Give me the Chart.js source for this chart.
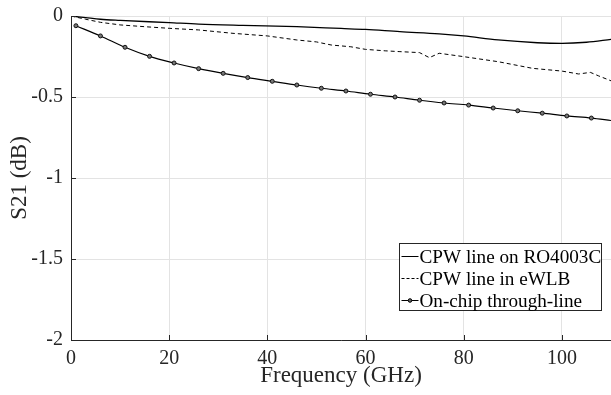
<!DOCTYPE html>
<html>
<head>
<meta charset="utf-8">
<script src="https://cdn.jsdelivr.net/npm/chart.js@4/dist/chart.umd.min.js"></script>
<style>
html,body{margin:0;padding:0;background:#fff;}
#wrap{width:611px;height:395px;}
</style>
</head>
<body>
<div id="wrap"><canvas id="c" width="611" height="395"></canvas></div>
<script>
// ---- data ----
const seriesNames = ['CPW line on RO4003C', 'CPW line in eWLB', 'On-chip through-line'];

const ro4003cFreq = [0, 3, 6, 10, 20, 26, 35, 46, 55, 60, 67, 75, 80, 87, 95, 100, 105, 110];
const ro4003cS21  = [0, -0.01, -0.02, -0.027, -0.041, -0.05, -0.058, -0.066, -0.077, -0.083, -0.097, -0.11, -0.123, -0.148, -0.165, -0.169, -0.162, -0.144];

const ewlbFreq = [0, 3, 6, 10, 15, 20, 26, 33, 40, 46, 50, 53, 57, 60, 64, 67, 71, 73, 75, 80, 87, 94, 100, 103.4, 105.8, 107.5, 110];
const ewlbS21  = [0, -0.02, -0.039, -0.055, -0.066, -0.076, -0.086, -0.107, -0.123, -0.148, -0.16, -0.179, -0.19, -0.206, -0.215, -0.22, -0.226, -0.257, -0.23, -0.251, -0.282, -0.323, -0.34, -0.358, -0.348, -0.37, -0.4];

const onchipFreq = [1, 6, 11, 16, 21, 26, 31, 36, 41, 46, 51, 56, 61, 66, 71, 76, 81, 86, 91, 96, 101, 106, 110];
const onchipS21  = [-0.06, -0.123, -0.193, -0.249, -0.29, -0.325, -0.354, -0.38, -0.403, -0.426, -0.446, -0.463, -0.483, -0.5, -0.52, -0.537, -0.55, -0.568, -0.585, -0.6, -0.617, -0.63, -0.645];

const xTicks = [0, 20, 40, 60, 80, 100];
const yTicks = [0, -0.5, -1, -1.5, -2];

const xy = (xs, ys) => xs.map((x, i) => ({x: x, y: ys[i]}));

const FONT = "'Liberation Serif', 'Times New Roman', serif";
const AXIS = '#262626';

const tickMarks = {
  id: 'tickMarks',
  afterDatasetsDraw(chart) {
    const {ctx, chartArea: a, scales: {x, y}} = chart;
    ctx.save();
    ctx.strokeStyle = AXIS;
    ctx.lineWidth = 1;
    ctx.beginPath();
    ctx.moveTo(a.left + 0.5, a.top);
    ctx.lineTo(a.left + 0.5, a.bottom + 0.5);
    ctx.lineTo(a.right, a.bottom + 0.5);
    xTicks.forEach(v => {
      const px = Math.round(x.getPixelForValue(v)) + 0.5;
      ctx.moveTo(px, a.bottom);
      ctx.lineTo(px, a.bottom - 5);
    });
    yTicks.forEach(v => {
      const py = Math.round(y.getPixelForValue(v)) + 0.5;
      ctx.moveTo(a.left, py);
      ctx.lineTo(a.left + 5, py);
    });
    ctx.stroke();
    ctx.restore();
  }
};

const boxLegend = {
  id: 'boxLegend',
  afterDraw(chart) {
    const {ctx} = chart;
    const ds = chart.data.datasets;
    const bx = 399.5, by = 243.5, bw = 202, bh = 67;
    ctx.save();
    ctx.fillStyle = '#fff';
    ctx.fillRect(bx, by, bw, bh);
    ctx.strokeStyle = AXIS;
    ctx.lineWidth = 1;
    ctx.strokeRect(bx, by, bw, bh);
    ctx.font = '19.2px ' + FONT;
    ctx.textBaseline = 'middle';
    ctx.textAlign = 'left';
    ds.forEach((d, i) => {
      const yy = by + 13 + i * 22;
      ctx.strokeStyle = '#000';
      ctx.lineWidth = 1;
      ctx.setLineDash(d.borderDash ? [3, 2] : []);
      ctx.beginPath();
      ctx.moveTo(bx + 2, yy);
      ctx.lineTo(bx + 19, yy);
      ctx.stroke();
      ctx.setLineDash([]);
      if (Array.isArray(d.pointRadius) ? d.pointRadius[0] > 0 : d.pointRadius > 0) {
        ctx.beginPath();
        ctx.arc(bx + 10.5, yy, 1.8, 0, Math.PI * 2);
        ctx.fillStyle = '#666';
        ctx.fill();
        ctx.stroke();
      }
      ctx.fillStyle = '#000';
      ctx.fillText(d.label, bx + 20, yy + 1);
    });
    ctx.restore();
  }
};

new Chart(document.getElementById('c'), {
  type: 'line',
  data: {
    datasets: [
      {
        label: seriesNames[0],
        data: xy(ro4003cFreq, ro4003cS21),
        borderColor: '#000', borderWidth: 1.3,
        pointRadius: 0, cubicInterpolationMode: 'monotone', fill: false
      },
      {
        label: seriesNames[1],
        data: xy(ewlbFreq, ewlbS21),
        borderColor: '#000', borderWidth: 1, borderDash: [4, 3],
        pointRadius: 0, tension: 0, fill: false
      },
      {
        label: seriesNames[2],
        data: xy(onchipFreq, onchipS21),
        borderColor: '#000', borderWidth: 1.2,
        pointRadius: onchipFreq.map((f, i) => i === onchipFreq.length - 1 ? 0 : 2),
        pointBackgroundColor: '#777', pointBorderColor: '#111', pointBorderWidth: 1,
        cubicInterpolationMode: 'monotone', fill: false
      }
    ]
  },
  options: {
    responsive: false,
    animation: false,
    clip: true,
    layout: {autoPadding: false, padding: {top: 16, right: 0, left: 0, bottom: 0}},
    plugins: {legend: {display: false}, tooltip: {enabled: false}},
    scales: {
      x: {
        type: 'linear', min: 0, max: 110,
        afterBuildTicks: s => { s.ticks = xTicks.map(v => ({value: v})); },
        afterFit: s => { s.height = 55; s.paddingLeft = 0; s.paddingRight = 0; },
        grid: {color: '#e3e3e3', drawTicks: false, lineWidth: 1},
        border: {display: false},
        ticks: {font: {family: FONT, size: 20}, color: AXIS, padding: 7, maxRotation: 0,
                callback: v => String(v)},
        title: {display: true, text: 'Frequency (GHz)', font: {family: FONT, size: 23}, color: AXIS, padding: {top: 0, bottom: 5}}
      },
      y: {
        type: 'linear', min: -2, max: 0,
        afterBuildTicks: s => { s.ticks = yTicks.map(v => ({value: v})); },
        afterFit: s => { s.width = 71; s.paddingTop = 0; s.paddingBottom = 0; },
        grid: {color: '#e3e3e3', drawTicks: false, lineWidth: 1},
        border: {display: false},
        ticks: {font: {family: FONT, size: 20}, color: AXIS, padding: 8,
                callback: v => String(v)},
        title: {display: true, text: 'S21 (dB)', font: {family: FONT, size: 23}, color: AXIS, padding: {top: 6, bottom: 0}}
      }
    }
  },
  plugins: [tickMarks, boxLegend]
});
</script>
</body>
</html>
